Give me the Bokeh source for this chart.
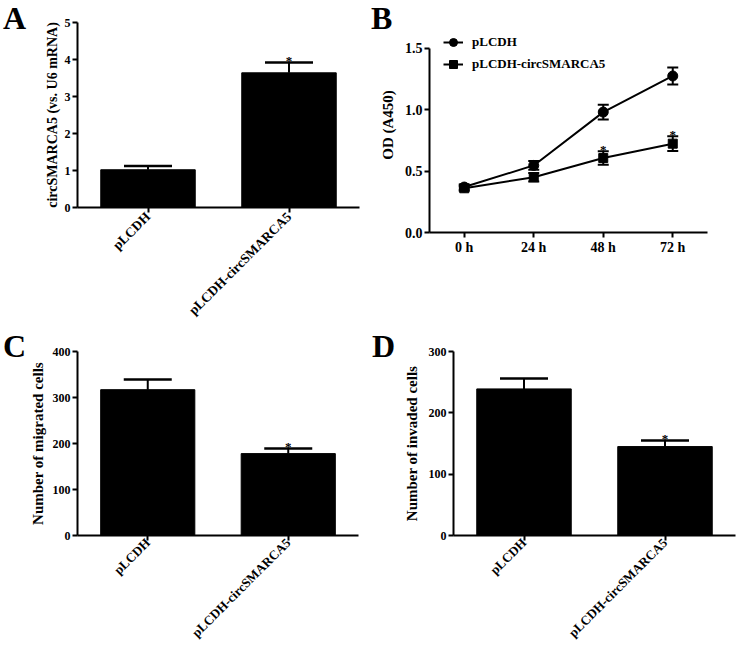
import math
from bokeh.plotting import figure
from bokeh.models import (FactorRange, Range1d, FixedTicker, Whisker, TeeHead, Div,
                          Legend, LegendItem, ColumnDataSource, NumeralTickFormatter)
from bokeh.layouts import column, row
from bokeh.embed import file_html
from bokeh.resources import INLINE
from bokeh.core.properties import value

# ---------------- data ----------------
groups = ["pLCDH", "pLCDH-circSMARCA5"]

a_values = [1.02, 3.64]
a_errors = [0.10, 0.28]
a_sig = ["", "*"]
a_ticks = [0, 1, 2, 3, 4, 5]

times = ["0 h", "24 h", "48 h", "72 h"]
time_pos = [0, 1, 2, 3]
b_ctrl = [0.37, 0.546, 0.98, 1.274]
b_ctrl_err = [0.02, 0.035, 0.06, 0.07]
b_circ = [0.36, 0.45, 0.606, 0.723]
b_circ_err = [0.02, 0.035, 0.055, 0.06]
b_sig = ["", "", "*", "*"]
b_ticks = [0.0, 0.5, 1.0, 1.5]

c_values = [317, 178]
c_errors = [22, 11]
c_sig = ["", "*"]
c_ticks = [0, 100, 200, 300, 400]

d_values = [239, 145]
d_errors = [17, 10]
d_sig = ["", "*"]
d_ticks = [0, 100, 200, 300]

panel_letters = ["A", "B", "C", "D"]

FONT = "Liberation Serif"


def style_axes(p, tick_size, label_size, label_standoff):
    for ax in (p.xaxis[0], p.yaxis[0]):
        ax.axis_line_width = 2
        ax.axis_line_color = "black"
        ax.major_tick_line_width = 2
        ax.major_tick_line_color = "black"
        ax.major_tick_out = 5
        ax.major_tick_in = 0
        ax.minor_tick_line_color = None
        ax.major_label_text_font = FONT
        ax.major_label_text_font_style = "bold"
        ax.major_label_text_color = "black"
        ax.major_label_text_font_size = tick_size
        ax.major_label_standoff = 2
        ax.axis_label_text_font = FONT
        ax.axis_label_text_font_style = "bold"
        ax.axis_label_text_font_size = label_size
        ax.axis_label_text_color = "black"
        ax.axis_label_standoff = label_standoff
    p.xgrid.visible = False
    p.ygrid.visible = False
    p.outline_line_color = None


def bar_panel(values, errors, sig, ticks, ylabel, ylabel_size, label_standoff,
              cat_size, cat_standoff, width, height, fl, ft, fr, fb, cap):
    p = figure(x_range=FactorRange(*groups), y_range=Range1d(0, ticks[-1]),
               width=width, height=height, min_border_left=fl, min_border_top=ft,
               min_border_right=width - fr, min_border_bottom=height - fb,
               output_backend="svg", toolbar_location=None)
    upper = [v + e for v, e in zip(values, errors)]
    src = ColumnDataSource(dict(x=groups, top=values, upper=upper, sig=sig))
    p.vbar(x="x", top="top", width=0.67, source=src, fill_color="black", line_color="black")
    p.add_layout(Whisker(base="x", upper="upper", lower="top", source=src,
                         upper_head=TeeHead(size=cap, line_width=2.5, line_color="black"),
                         lower_head=None, line_width=2, line_color="black"))
    p.text(x="x", y="upper", text="sig", source=src, text_font=value(FONT),
           text_font_style="bold", text_font_size="13px", text_align="center",
           text_baseline="alphabetic", y_offset=-2, text_color="black")
    style_axes(p, "12px", ylabel_size, label_standoff)
    p.xaxis.major_label_text_font_size = cat_size
    p.xaxis.major_label_standoff = cat_standoff
    p.xaxis.major_label_orientation = math.pi / 4
    p.yaxis.ticker = FixedTicker(ticks=ticks)
    p.yaxis.axis_label = ylabel
    return p


def letter_div(letter, left, top):
    html = ('<span style="font-family:\'Liberation Serif\';font-weight:bold;'
            'font-size:32px;line-height:36px;color:black;white-space:nowrap">%s</span>' % letter)
    return Div(text=html, width=30, height=40, margin=0,
               styles={"position": "absolute", "left": "%dpx" % left, "top": "%.1fpx" % top,
                       "line-height": "36px", "z-index": "10"})


# Panel A  (figure at page 0,0)
pA = bar_panel(a_values, a_errors, a_sig, a_ticks, "circSMARCA5 (vs. U6 mRNA)", "14px", 2,
               "13.5px", 2, 370, 330, 77, 22, 359, 207, 48)

# Panel B  (figure at page 370,0)
pB = figure(x_range=Range1d(-0.5, 3.5), y_range=Range1d(0, 1.75), width=366, height=330,
            min_border_left=59, min_border_top=17, min_border_right=29, min_border_bottom=98,
            output_backend="svg", toolbar_location=None)
srcB = ColumnDataSource(dict(x=time_pos, ctrl=b_ctrl,
                             ctrl_lo=[v - e for v, e in zip(b_ctrl, b_ctrl_err)],
                             ctrl_hi=[v + e for v, e in zip(b_ctrl, b_ctrl_err)],
                             circ=b_circ,
                             circ_lo=[v - e for v, e in zip(b_circ, b_circ_err)],
                             circ_hi=[v + e for v, e in zip(b_circ, b_circ_err)],
                             sig=b_sig))
l1 = pB.line("x", "ctrl", source=srcB, line_width=2, line_color="black")
s1 = pB.scatter("x", "ctrl", source=srcB, marker="circle", size=10, fill_color="black", line_color="black")
l2 = pB.line("x", "circ", source=srcB, line_width=2, line_color="black")
s2 = pB.scatter("x", "circ", source=srcB, marker="square", size=9, fill_color="black", line_color="black")
for lo, hi in (("ctrl_lo", "ctrl_hi"), ("circ_lo", "circ_hi")):
    pB.add_layout(Whisker(base="x", upper=hi, lower=lo, source=srcB, line_width=2, line_color="black",
                          upper_head=TeeHead(size=11, line_width=2, line_color="black"),
                          lower_head=TeeHead(size=11, line_width=2, line_color="black")))
pB.text(x="x", y="circ_hi", text="sig", source=srcB, text_font=value(FONT), text_font_style="bold",
        text_font_size="13px", text_align="center", text_baseline="alphabetic", y_offset=-2,
        text_color="black")
style_axes(pB, "14px", "15px", 6)
pB.xaxis.ticker = FixedTicker(ticks=time_pos)
pB.xaxis.major_label_overrides = {t: s for t, s in zip(time_pos, times)}
pB.yaxis.ticker = FixedTicker(ticks=b_ticks)
pB.yaxis.formatter = NumeralTickFormatter(format="0.0")
pB.yaxis.bounds = (b_ticks[0], b_ticks[-1])
pB.yaxis.axis_label = "OD (A450)"
legend = Legend(items=[LegendItem(label="pLCDH", renderers=[l1, s1]),
                       LegendItem(label="pLCDH-circSMARCA5", renderers=[l2, s2])],
                location="top_left", padding=0, margin=14, spacing=0, glyph_width=20,
                glyph_height=22, label_height=22, label_standoff=9,
                label_text_font=FONT, label_text_font_style="bold", label_text_font_size="13px",
                label_text_color="black",
                border_line_color=None, background_fill_alpha=0)
pB.add_layout(legend)

# Panel C  (figure at page 0,330)
pC = bar_panel(c_values, c_errors, c_sig, c_ticks, "Number of migrated cells", "15px", 4,
               "13px", 0, 370, 318, 77, 21, 358, 205, 48)
# Panel D  (figure at page 370,330)
pD = bar_panel(d_values, d_errors, d_sig, d_ticks, "Number of invaded cells", "15px", 6,
               "13px", 0, 366, 318, 83, 21, 365, 207, 48)

letter_pos = [(3, 0), (371, 0), (3, 328), (372, 328)]
letters = [letter_div(t, x, y) for t, (x, y) in zip(panel_letters, letter_pos)]

layout = column(row(column(pA), column(pB)), row(column(pC), column(pD)), *letters)
open("out.html", "w").write(file_html(layout, INLINE))
